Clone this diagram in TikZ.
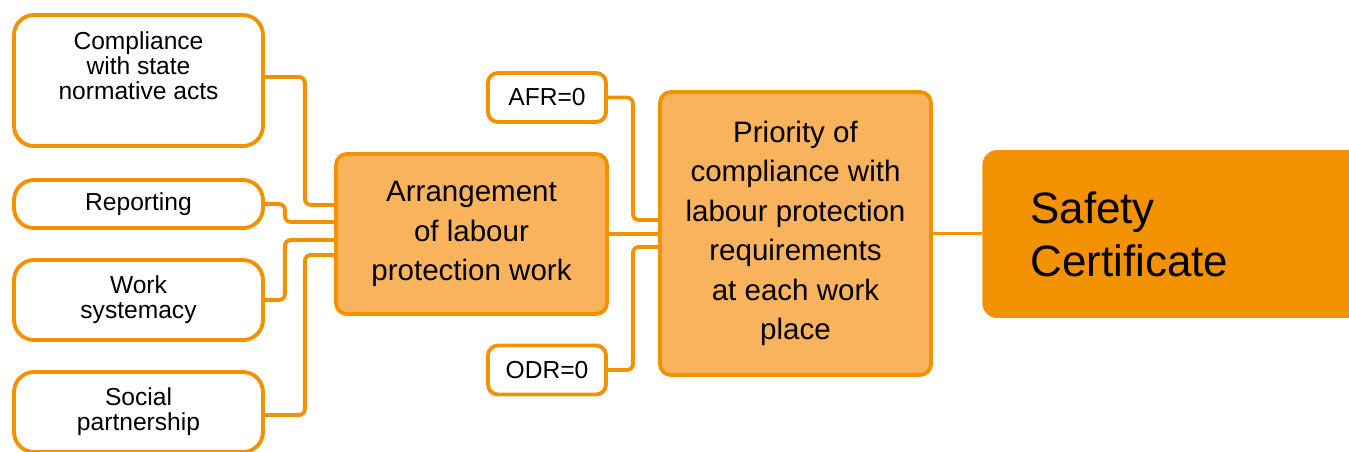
\documentclass[tikz,border=0pt]{standalone}
\usepackage{fontspec}
\setmainfont{Liberation Sans}
\usetikzlibrary{calc}
\definecolor{safeorange}{HTML}{F39200}
\definecolor{lightorange}{HTML}{F8B35C}

\begin{document}
\begin{tikzpicture}[x=0.02cm,y=-0.02cm]
  \tikzstyle{leaf}=[draw=safeorange,line width=2.2pt,rounded corners=0.4cm,fill=white,inner sep=0pt,minimum width=4.98cm,align=center,font=\fontsize{14}{14.2}\selectfont]
  \tikzstyle{flag}=[draw=safeorange,line width=2.2pt,rounded corners=0.2cm,fill=white,inner sep=0pt,minimum width=2.36cm,minimum height=0.98cm,font=\fontsize{14}{14.2}\selectfont]
  \tikzstyle{mid}=[draw=safeorange,line width=2.2pt,rounded corners=0.22cm,fill=lightorange,inner sep=0pt,minimum width=5.42cm,align=center,font=\fontsize{16.8}{22.5}\selectfont]
  \tikzstyle{link}=[draw=safeorange,line width=2.2pt,rounded corners=0.12cm]
  \useasboundingbox (0,0) rectangle (1349,451);
  \clip (0,0) rectangle (1349,451);
  \node[leaf,minimum height=2.62cm] (comp) at (138.5,80.5) {};
  \node[align=center,font=\fontsize{14}{14.2}\selectfont] (comptxt) at ($(comp.center)+(0,-14.5)$) {Compliance\\with state\\normative acts};
  \node[leaf,minimum height=0.96cm] (rep) at (138.5,204) {Reporting};
  \node[leaf,minimum height=1.6cm] (work) at (138.5,300) {Work\\systemacy};
  \node[leaf,minimum height=1.6cm] (soc) at (138.5,412) {Social\\partnership};
  \node[mid,minimum height=3.2cm] (arr) at (471.5,234) {Arrangement\\of labour\\protection work};
  \node[flag] (afr) at (547,97.5) {AFR=0};
  \node[flag] (odr) at (547,370) {ODR=0};
  \node[mid,minimum height=5.66cm] (pri) at (795.5,233.5) {Priority of\\compliance with\\labour protection\\requirements\\at each work\\place};
  \node[fill=safeorange,rounded corners=0.3cm,inner xsep=0.96cm,inner ysep=0pt,minimum height=3.36cm,text width=8cm,align=left,anchor=west,font=\fontsize{25}{30}\selectfont] (safe) at (982,234) {Safety\\Certificate};
  \draw[link] ($(comp.east)+(0,-3.5)$) -- ++(40,0) |- ($(arr.west)+(0,-29)$);
  \draw[link] (rep.east) -- ++(20,0) |- ($(arr.west)+(0,-12)$);
  \draw[link] (work.east) -- ++(20,0) |- ($(arr.west)+(0,6)$);
  \draw[link] ($(soc.east)+(0,3)$) -- ++(40,0) |- ($(arr.west)+(0,21)$);
  \draw[link] (afr.east) -- ++(25,0) |- ($(pri.west)+(0,-13.5)$);
  \draw[link] (arr.east) -- (arr.east -| pri.west);
  \draw[link] (odr.east) -- ++(25,0) |- ($(pri.west)+(0,13.5)$);
  \draw[link] (pri.east) -- (pri.east -| safe.west);
\end{tikzpicture}
\end{document}
